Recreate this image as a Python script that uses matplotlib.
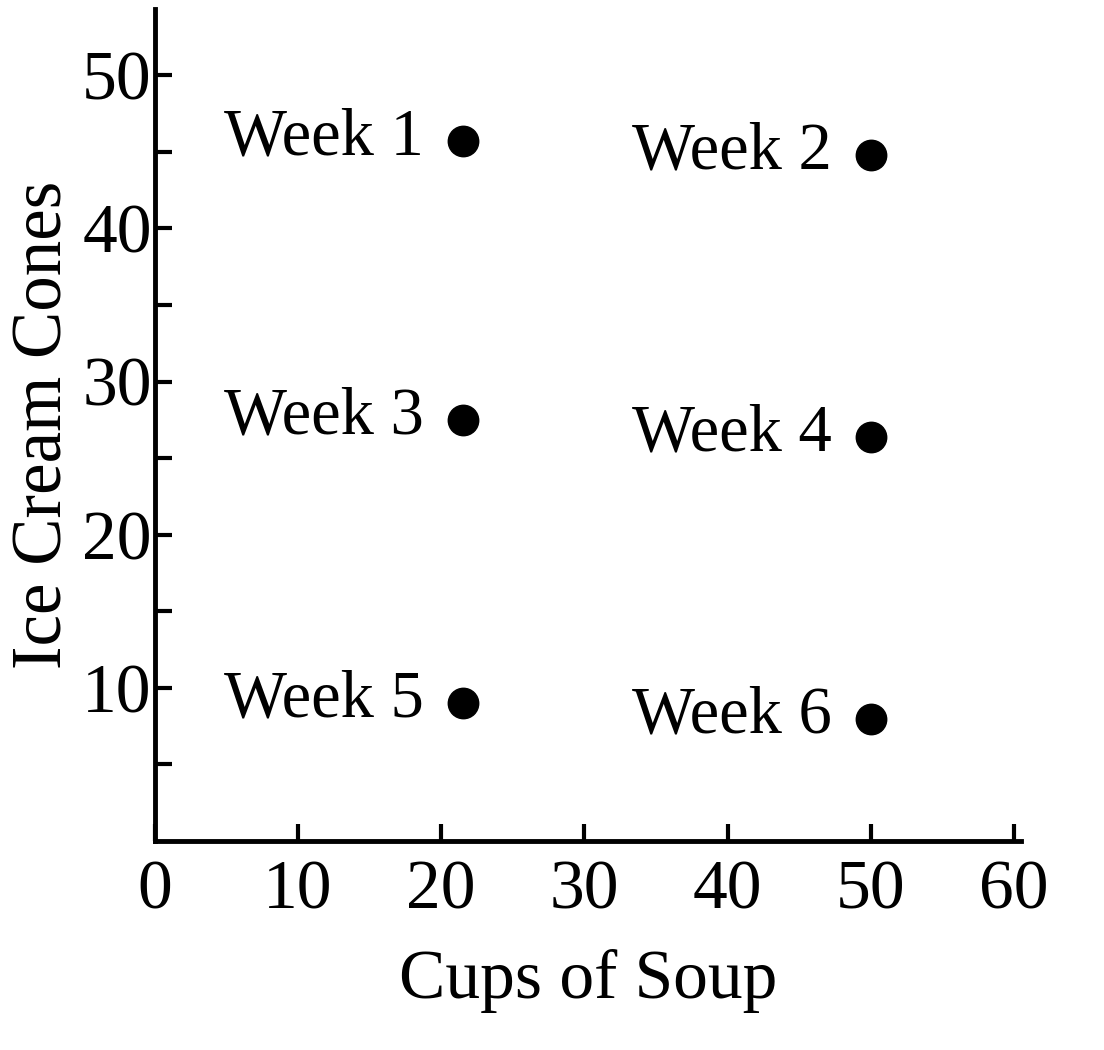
import matplotlib
matplotlib.use("Agg")
from matplotlib import pyplot as plt

# data
weeks = ["Week 1", "Week 2", "Week 3", "Week 4", "Week 5", "Week 6"]
soup = [21.5, 50, 21.5, 50, 21.5, 50]
cones = [45.7, 44.8, 27.5, 26.4, 9, 8]
xticks = [0, 10, 20, 30, 40, 50, 60]
yticks = [10, 20, 30, 40, 50]

plt.rcParams['font.family'] = ['Liberation Serif', 'DejaVu Serif']

fig = plt.figure(figsize=(11.04, 10.5), dpi=100)
ax = fig.add_axes([0.140, 0.199, 0.785, 0.792])

ax.scatter(soup, cones, s=480, color="black", zorder=3)
for name, x, y in zip(weeks, soup, cones):
	ax.annotate(name, (x, y), xytext=(-28, 2), textcoords="offset points",
		ha="right", va="center", fontsize=48)

ax.set_xlim(0, 60.5)
ax.set_ylim(0, 54.3)
ax.spines['top'].set_visible(False)
ax.spines['right'].set_visible(False)
for s in ['left', 'bottom']:
	ax.spines[s].set_linewidth(3.5)

ax.set_xticks(xticks)
ax.set_yticks(yticks)
ax.set_yticks([5, 15, 25, 35, 45], minor=True)
ax.tick_params(which='both', direction='in', width=3, length=12, labelsize=50, pad=2)
ax.tick_params(axis='x', pad=14)

ax.set_xlabel("Cups of Soup", fontsize=50, labelpad=18)
ax.set_ylabel("Ice Cream Cones", fontsize=51, labelpad=4)

plt.savefig("out.png", dpi=100)
